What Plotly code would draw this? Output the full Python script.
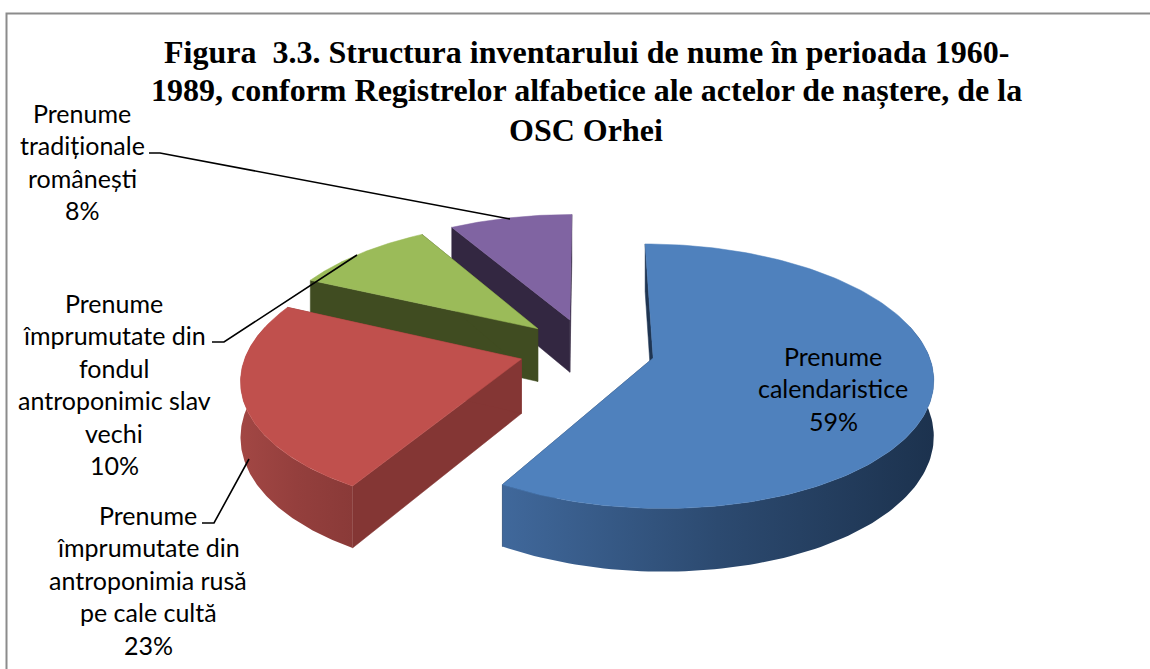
import numpy as np
import plotly.graph_objects as go

# ---- data ----
categories = [
    "Prenume calendaristice",
    "Prenume împrumutate din antroponimia rusă pe cale cultă",
    "Prenume împrumutate din fondul antroponimic slav vechi",
    "Prenume tradiționale românești",
]
values = [58.5, 23.4, 9.7, 8.4]
label_lines = [
    ["Prenume", "calendaristice", "59%"],
    ["Prenume", "împrumutate din", "antroponimia rusă", "pe cale cultă", "23%"],
    ["Prenume", "împrumutate din", "fondul", "antroponimic slav", "vechi", "10%"],
    ["Prenume", "tradiționale", "românești", "8%"],
]
title_lines = [
    "Figura  3.3. Structura inventarului de nume în perioada 1960-",
    "1989, conform Registrelor alfabetice ale actelor de naștere, de la",
    "OSC Orhei",
]

# ---- styles ----
top_colors = ["#4f81bd", "#c0504d", "#9bbb59", "#8064a2"]
radial_colors = ["#1f3552", "#843634", "#404c21", "#332741"]
rim_gradients = [
    ["#40689b", "#2c4a70", "#1c324e"],
    ["#a24744", "#943f3d", "#8a3a38"],
    ["#4a5a26", "#404c21", "#404c21"],
    ["#332741", "#332741", "#332741"],
]
label_x = [833, 148, 114, 82]
label_y = [356, 515, 303, 113]
line_gap = 32.4

# projection of the tilted, exploded disc on the page
CX, CY = 587.0, 349.5
R, EXPLODE, DEPTH = 274.0, 68.0, 54.0
TILT, PERSP = 0.465, 0.0005


def project(u, v, drop=0.0):
    s = 1.0 / (1.0 + v * PERSP)
    return CX + u * s, CY - v * TILT * s + drop * s


fig = go.Figure()
edges = np.concatenate([[0], np.cumsum(values)]) / sum(values) * 360.0
order = [3, 2, 1, 0]  # painter's order: back slices first

for i in order:
    a, b = edges[i], edges[i + 1]
    mid = np.radians((a + b) / 2)
    u0, v0 = EXPLODE * np.sin(mid), EXPLODE * np.cos(mid)
    th = np.radians(np.linspace(a, b, 160))
    u = u0 + R * np.sin(th)
    v = v0 + R * np.cos(th)

    # radial side walls
    for k in [0, -1]:
        x1, y1 = project(np.array([u0, u[k]]), np.array([v0, v[k]]))
        x2, y2 = project(np.array([u[k], u0]), np.array([v[k], v0]), DEPTH)
        fig.add_trace(go.Scatter(
            x=np.concatenate([x1, x2, x1[:1]]), y=np.concatenate([y1, y2, y1[:1]]),
            mode="lines", fill="toself", fillcolor=radial_colors[i],
            line=dict(width=0.5, color=radial_colors[i]), hoverinfo="skip", showlegend=False))

    # outer rim (front-facing part)
    deg = np.degrees(th)
    mask = (deg > 75) & (deg < 285)
    if mask.sum() > 1:
        xt, yt = project(u[mask], v[mask])
        xb, yb = project(u[mask][::-1], v[mask][::-1], DEPTH)
        g = rim_gradients[i]
        fig.add_trace(go.Scatter(
            x=np.concatenate([xt, xb, xt[:1]]), y=np.concatenate([yt, yb, yt[:1]]),
            mode="lines", fill="toself", line=dict(width=0),
            fillgradient=dict(type="horizontal",
                              colorscale=[[0, g[0]], [0.5, g[1]], [1, g[2]]]),
            hoverinfo="skip", showlegend=False))

    # top face
    xa, ya = project(np.concatenate([[u0], u, [u0]]), np.concatenate([[v0], v, [v0]]))
    fig.add_trace(go.Scatter(
        x=xa, y=ya, mode="lines", fill="toself", fillcolor=top_colors[i],
        line=dict(width=0.5, color=top_colors[i]), name=categories[i],
        text=f"{categories[i]}: {values[i]}%", hoverinfo="text", showlegend=False))

# leader lines
leaders = [
    ([149, 160, 510], [153, 153, 219]),
    ([212, 224, 357], [342, 342, 255]),
    ([202, 214, 249], [523, 523, 459]),
]
for lx, ly in leaders:
    fig.add_trace(go.Scatter(x=lx, y=ly, mode="lines", line=dict(color="black", width=1.6),
                             hoverinfo="skip", showlegend=False))

ann = []
for i, lines in enumerate(label_lines):
    for j, t in enumerate(lines):
        ann.append(dict(x=label_x[i], y=label_y[i] + j * line_gap, text=t, showarrow=False,
                        xanchor="center", yanchor="middle",
                        font=dict(family="Lato", size=25, color="black")))
for j, (t, yy) in enumerate(zip(title_lines, [52, 90, 130])):
    ann.append(dict(x=586, y=yy, text=f"<b>{t}</b>", showarrow=False, xanchor="center",
                    yanchor="middle",
                    font=dict(family="Liberation Serif", size=32, color="black")))

fig.update_layout(
    width=1150, height=669, margin=dict(l=0, r=0, t=0, b=0, pad=0, autoexpand=False),
    paper_bgcolor="white", plot_bgcolor="white", showlegend=False,
    xaxis=dict(range=[0, 1150], visible=False, fixedrange=True),
    yaxis=dict(range=[669, 0], visible=False, fixedrange=True),
    annotations=ann,
    shapes=[dict(type="rect", xref="paper", yref="paper", x0=6.5 / 1150, x1=1.01,
                 y0=-0.01, y1=1 - 13.5 / 669, line=dict(color="#8c8c8c", width=2), layer="below")],
)
fig.write_html("out.html", config=dict(displayModeBar=False),
               post_script="document.body.style.margin='0';document.documentElement.style.overflow='hidden';")
